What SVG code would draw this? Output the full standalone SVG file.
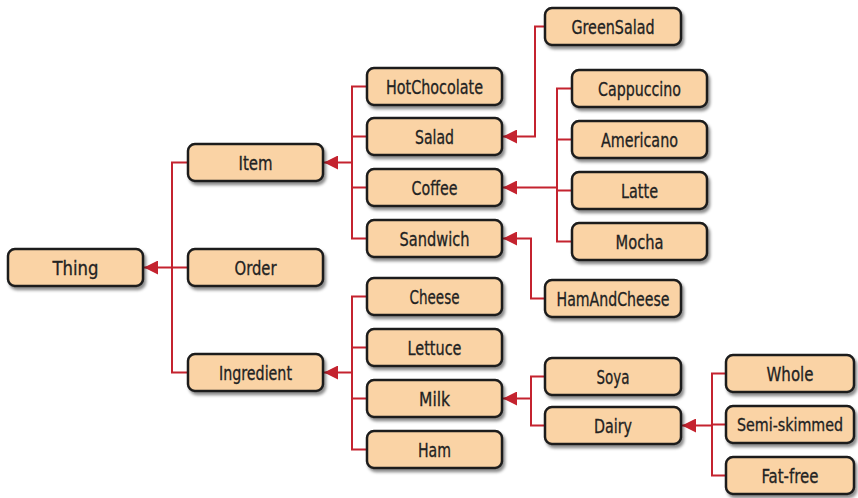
<svg xmlns="http://www.w3.org/2000/svg" width="858" height="498" viewBox="0 0 858 498">
<style>
.n rect{fill:#fad3a5;stroke:#1c1c1c;stroke-width:2.5;filter:url(#sh)}
.n text{font-family:"DejaVu Sans Condensed","Liberation Sans",sans-serif;font-size:20px;fill:#222;stroke:#222;stroke-width:0.3;text-anchor:middle;dominant-baseline:central}
#conn path{fill:none;stroke:#c4232f;stroke-width:2}
</style>
<defs>
<filter id="sh" x="-10%" y="-20%" width="130%" height="160%">
<feDropShadow dx="2" dy="3" stdDeviation="1.8" flood-color="#000" flood-opacity="0.45"/>
</filter>
<marker id="ah" markerUnits="userSpaceOnUse" markerWidth="16" markerHeight="14" refX="14" refY="7" orient="auto">
<path d="M0,0 L14,7 L0,14 Z" fill="#c4232f"/>
</marker>
</defs>
<g id="conn">
<path d="M188,162.5 H172 V372.5 H188 M172,267.5 H188"/>
<path d="M172,267.5 H144" marker-end="url(#ah)"/>
<path d="M367,86.5 H352 V238.5 H367 M352,136.5 H367 M352,187.5 H367"/>
<path d="M352,162.5 H324" marker-end="url(#ah)"/>
<path d="M367,296.5 H352 V449.5 H367 M352,347.5 H367 M352,398.5 H367"/>
<path d="M352,372.5 H324" marker-end="url(#ah)"/>
<path d="M545,26.5 H535 V136.5 H503" marker-end="url(#ah)"/>
<path d="M572,88.5 H557 V241.5 H572 M557,139.5 H572 M557,190.5 H572"/>
<path d="M557,187.5 H503" marker-end="url(#ah)"/>
<path d="M545,298.5 H531 V238.5 H503" marker-end="url(#ah)"/>
<path d="M545,376.5 H531 V425.5 H545"/>
<path d="M531,398.5 H503" marker-end="url(#ah)"/>
<path d="M726,373.5 H712 V475.5 H726 M712,424.5 H726"/>
<path d="M712,425.5 H682" marker-end="url(#ah)"/>
</g>
<g id="Thing" class="n"><rect x="8" y="249" width="135" height="37" rx="7"/><text x="75.5" y="267.5" textLength="46" lengthAdjust="spacingAndGlyphs">Thing</text></g>
<g id="Item" class="n"><rect x="188" y="144" width="135" height="37" rx="7"/><text x="255.5" y="162.5" textLength="34" lengthAdjust="spacingAndGlyphs">Item</text></g>
<g id="Order" class="n"><rect x="188" y="249" width="135" height="37" rx="7"/><text x="255.5" y="267.5" textLength="42" lengthAdjust="spacingAndGlyphs">Order</text></g>
<g id="Ingredient" class="n"><rect x="188" y="354" width="135" height="37" rx="7"/><text x="255.5" y="372.5" textLength="73" lengthAdjust="spacingAndGlyphs">Ingredient</text></g>
<g id="HotChocolate" class="n"><rect x="367" y="68" width="135" height="37" rx="7"/><text x="434.5" y="86.5" textLength="97" lengthAdjust="spacingAndGlyphs">HotChocolate</text></g>
<g id="Salad" class="n"><rect x="367" y="118" width="135" height="37" rx="7"/><text x="434.5" y="136.5" textLength="39" lengthAdjust="spacingAndGlyphs">Salad</text></g>
<g id="Coffee" class="n"><rect x="367" y="169" width="135" height="37" rx="7"/><text x="434.5" y="187.5" textLength="46" lengthAdjust="spacingAndGlyphs">Coffee</text></g>
<g id="Sandwich" class="n"><rect x="367" y="220" width="135" height="37" rx="7"/><text x="434.5" y="238.5" textLength="70" lengthAdjust="spacingAndGlyphs">Sandwich</text></g>
<g id="Cheese" class="n"><rect x="367" y="278" width="135" height="37" rx="7"/><text x="434.5" y="296.5" textLength="50" lengthAdjust="spacingAndGlyphs">Cheese</text></g>
<g id="Lettuce" class="n"><rect x="367" y="329" width="135" height="37" rx="7"/><text x="434.5" y="347.5" textLength="54" lengthAdjust="spacingAndGlyphs">Lettuce</text></g>
<g id="Milk" class="n"><rect x="367" y="380" width="135" height="37" rx="7"/><text x="434.5" y="398.5" textLength="31" lengthAdjust="spacingAndGlyphs">Milk</text></g>
<g id="Ham" class="n"><rect x="367" y="431" width="135" height="37" rx="7"/><text x="434.5" y="449.5" textLength="33" lengthAdjust="spacingAndGlyphs">Ham</text></g>
<g id="GreenSalad" class="n"><rect x="545" y="8" width="136" height="37" rx="7"/><text x="613" y="26.5" textLength="83" lengthAdjust="spacingAndGlyphs">GreenSalad</text></g>
<g id="Cappuccino" class="n"><rect x="572" y="70" width="135" height="37" rx="7"/><text x="639.5" y="88.5" textLength="83" lengthAdjust="spacingAndGlyphs">Cappuccino</text></g>
<g id="Americano" class="n"><rect x="572" y="121" width="135" height="37" rx="7"/><text x="639.5" y="139.5" textLength="77" lengthAdjust="spacingAndGlyphs">Americano</text></g>
<g id="Latte" class="n"><rect x="572" y="172" width="135" height="37" rx="7"/><text x="639.5" y="190.5" textLength="37" lengthAdjust="spacingAndGlyphs">Latte</text></g>
<g id="Mocha" class="n"><rect x="572" y="223" width="135" height="37" rx="7"/><text x="639.5" y="241.5" textLength="48" lengthAdjust="spacingAndGlyphs">Mocha</text></g>
<g id="HamAndCheese" class="n"><rect x="545" y="280" width="136" height="37" rx="7"/><text x="613" y="298.5" textLength="113" lengthAdjust="spacingAndGlyphs">HamAndCheese</text></g>
<g id="Soya" class="n"><rect x="545" y="358" width="136" height="37" rx="7"/><text x="613" y="376.5" textLength="33" lengthAdjust="spacingAndGlyphs">Soya</text></g>
<g id="Dairy" class="n"><rect x="545" y="407" width="136" height="37" rx="7"/><text x="613" y="425.5" textLength="38" lengthAdjust="spacingAndGlyphs">Dairy</text></g>
<g id="Whole" class="n"><rect x="726" y="355" width="128" height="37" rx="7"/><text x="790" y="373.5" textLength="47" lengthAdjust="spacingAndGlyphs">Whole</text></g>
<g id="Semi-skimmed" class="n"><rect x="726" y="406" width="128" height="37" rx="7"/><text x="790" y="424.5" style="font-size:17px" textLength="106" lengthAdjust="spacingAndGlyphs">Semi-skimmed</text></g>
<g id="Fat-free" class="n"><rect x="726" y="457" width="128" height="37" rx="7"/><text x="790" y="475.5" textLength="57" lengthAdjust="spacingAndGlyphs">Fat-free</text></g>
</svg>
